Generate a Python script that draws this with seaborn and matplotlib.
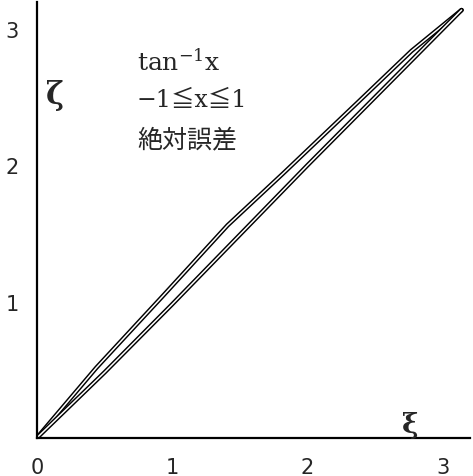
import numpy as np
import pandas as pd
import matplotlib
matplotlib.use("Agg")
import matplotlib.pyplot as plt
import seaborn as sns

# curves (xi, zeta)
upper_xi = [0.0, 0.44, 0.93, 1.41, 1.82, 2.37, 2.77, 3.14]
upper_zeta = [0.0, 0.515, 1.04, 1.56, 1.94, 2.46, 2.84, 3.14]
lower_xi = [0.0, 0.5, 1.0, 1.5, 2.0, 2.5, 2.8, 3.14]
lower_zeta = [0.0, 0.48, 0.98, 1.49, 2.0, 2.5, 2.8, 3.14]

x_ticks = [0, 1, 2, 3]
x_ticklabels = ["0", "1", "2", "3"]
y_ticks = [1, 2, 3]
y_ticklabels = ["1", "2", "3"]

sns.set_style("white")
plt.rcParams["font.family"] = ["DejaVu Serif", "Noto Sans CJK JP"]
plt.rcParams["mathtext.fontset"] = "dejavuserif"

fig = plt.figure(figsize=(4.73, 4.77), dpi=100)
ax = fig.add_axes([0.078, 0.080, 0.915, 0.914])

for xs, ys in [(upper_xi, upper_zeta), (lower_xi, lower_zeta)]:
    df = pd.DataFrame({"xi": xs, "zeta": ys})
    # double-stroke look: thick black then thin white core
    sns.lineplot(data=df, x="xi", y="zeta", sort=False, color="black", lw=3.2, ax=ax)
    sns.lineplot(data=df, x="xi", y="zeta", sort=False, color="white", lw=1.1, ax=ax)

ax.set_xlim(0, 3.2)
ax.set_ylim(0, 3.2)
ax.set_xlabel("")
ax.set_ylabel("")

sns.despine(ax=ax)
for s in ["left", "bottom"]:
    ax.spines[s].set_color("black")
    ax.spines[s].set_linewidth(1.6)

ax.set_xticks(x_ticks)
ax.set_xticklabels(x_ticklabels, fontsize=15, family="DejaVu Sans")
ax.set_yticks(y_ticks)
ax.set_yticklabels(y_ticklabels, fontsize=15, family="DejaVu Sans")
ax.tick_params(axis="both", direction="inout", length=4, width=1, color="black")
ax.tick_params(axis="x", pad=12)
ax.tick_params(axis="y", pad=11)

ax.text(0.07, 2.52, "ζ", fontsize=22, fontweight="bold", ha="left", va="center")
ax.text(2.76, 0.1, "ξ", fontsize=20, fontweight="bold", ha="center", va="center")

ax.text(0.74, 2.76, "tan$^{-1}$x", fontsize=18, ha="left", va="center")
ax.text(0.74, 2.48, "−1≦x≦1", fontsize=17, ha="left", va="center")
ax.text(0.74, 2.19, "絶対誤差", fontsize=18, ha="left", va="center",
        family=["Noto Sans CJK JP", "DejaVu Sans"])

fig.savefig("out.png", dpi=100)
